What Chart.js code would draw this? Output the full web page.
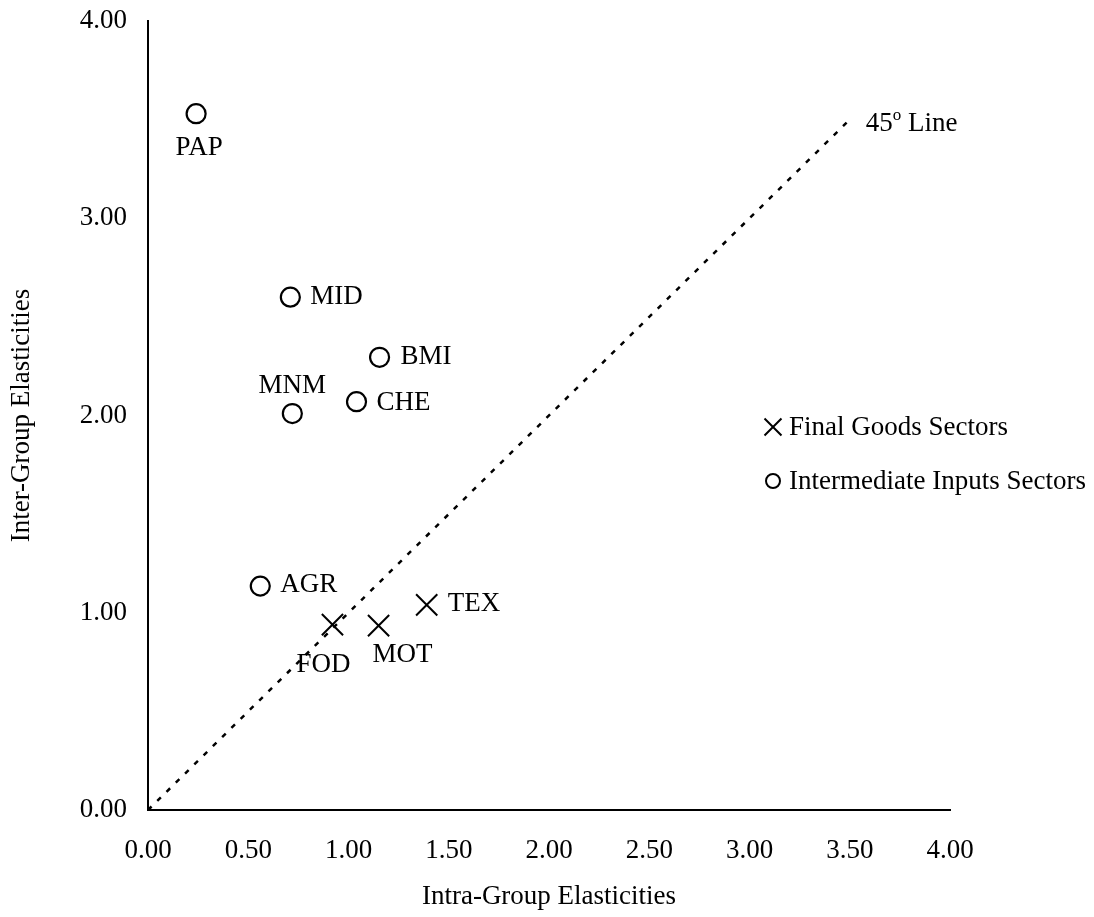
<!DOCTYPE html>
<html>
<head>
<meta charset="utf-8">
<script src="https://cdn.jsdelivr.net/npm/chart.js@4/dist/chart.umd.min.js"></script>
<style>
  html, body { margin: 0; padding: 0; background: #fff; }
  #wrap { width: 1094px; height: 917px; position: relative; }
</style>
</head>
<body>
<div id="wrap"><canvas id="c" width="1094" height="917"></canvas></div>
<script>
// ---- Data ----
const finalNames = ['FOD', 'MOT', 'TEX'];
const finalX = [0.92, 1.15, 1.39];
const finalY = [0.94, 0.935, 1.04];

const interNames = ['PAP', 'MID', 'BMI', 'CHE', 'MNM', 'AGR'];
const interX = [0.24, 0.71, 1.155, 1.04, 0.72, 0.56];
const interY = [3.53, 2.60, 2.295, 2.07, 2.01, 1.135];

const lineX = [0, 3.5];
const lineY = [0, 3.5];

const xTickValues = [0, 0.5, 1, 1.5, 2, 2.5, 3, 3.5, 4];
const yTickValues = [0, 1, 2, 3, 4];

const seriesLabels = ['Final Goods Sectors', 'Intermediate Inputs Sectors'];
const axisTitles = ['Intra-Group Elasticities', 'Inter-Group Elasticities'];
const lineLabel = ['45', 'o', ' Line'];

// ---- Styling / placement (not data) ----
const FONT = 'Liberation Serif';
const FS = 27;
const labelPlacement = {
  PAP: { dx: 3, dy: 34, align: 'center' },
  MID: { dx: 20, dy: 0, align: 'left' },
  BMI: { dx: 21, dy: 0, align: 'left' },
  CHE: { dx: 20, dy: 1, align: 'left' },
  MNM: { dx: 0, dy: -28, align: 'center' },
  AGR: { dx: 20, dy: -1, align: 'left' },
  FOD: { dx: -9, dy: 40, align: 'center' },
  MOT: { dx: 24, dy: 29, align: 'center' },
  TEX: { dx: 21, dy: -1, align: 'left' }
};

const toPts = (xs, ys) => xs.map((x, i) => ({ x: x, y: ys[i] }));

const pointLabelPlugin = {
  id: 'pointLabels',
  afterDatasetsDraw(chart) {
    const ctx = chart.ctx;
    ctx.save();
    ctx.fillStyle = '#000';
    ctx.font = FS + 'px "' + FONT + '"';
    ctx.textBaseline = 'middle';
    chart.data.datasets.forEach((ds, di) => {
      if (!ds.names) return;
      const meta = chart.getDatasetMeta(di);
      meta.data.forEach((el, i) => {
        const name = ds.names[i];
        const p = labelPlacement[name] || { dx: 20, dy: 0, align: 'left' };
        ctx.textAlign = p.align;
        ctx.fillText(name, el.x + p.dx, el.y + p.dy);
      });
    });
    // 45 degree line label
    const lineIdx = chart.data.datasets.findIndex(d => d.isRefLine);
    if (lineIdx >= 0) {
      const meta = chart.getDatasetMeta(lineIdx);
      const end = meta.data[meta.data.length - 1];
      let x = end.x + 16;
      const y = end.y + 4;
      ctx.textAlign = 'left';
      ctx.font = FS + 'px "' + FONT + '"';
      ctx.fillText(lineLabel[0], x, y);
      x += ctx.measureText(lineLabel[0]).width;
      ctx.font = '17px "' + FONT + '"';
      ctx.fillText(lineLabel[1], x, y - 8);
      x += ctx.measureText(lineLabel[1]).width;
      ctx.font = FS + 'px "' + FONT + '"';
      ctx.fillText(lineLabel[2], x, y);
    }
    ctx.restore();
  }
};

const customLegendPlugin = {
  id: 'customLegend',
  afterDraw(chart) {
    const ctx = chart.ctx;
    const items = chart.data.datasets.filter(d => d.inLegend);
    const mx = 773, ty0 = 427, gap = 54;
    ctx.save();
    items.forEach((ds, i) => {
      const y = ty0 + i * gap;
      ctx.strokeStyle = '#000';
      ctx.fillStyle = 'rgba(0,0,0,0)';
      ctx.lineWidth = 2;
      Chart.helpers.drawPoint(ctx, {
        pointStyle: ds.pointStyle,
        radius: ds.pointStyle === 'circle' ? 7 : 12,
        borderWidth: 2,
        rotation: 0
      }, mx, y);
      ctx.fillStyle = '#000';
      ctx.font = FS + 'px "' + FONT + '"';
      ctx.textAlign = 'left';
      ctx.textBaseline = 'middle';
      ctx.fillText(ds.label, mx + 16, y + 1);
    });
    ctx.restore();
  }
};

const tickFont = { family: FONT, size: FS };

new Chart(document.getElementById('c'), {
  type: 'scatter',
  data: {
    datasets: [
      {
        label: seriesLabels[0],
        names: finalNames,
        inLegend: true,
        data: toPts(finalX, finalY),
        pointStyle: 'crossRot',
        pointRadius: 15,
        pointHoverRadius: 15,
        borderColor: '#000',
        backgroundColor: 'rgba(0,0,0,0)',
        pointBorderWidth: 2,
        showLine: false
      },
      {
        label: seriesLabels[1],
        names: interNames,
        inLegend: true,
        data: toPts(interX, interY),
        pointStyle: 'circle',
        pointRadius: 9.5,
        pointHoverRadius: 9.5,
        borderColor: '#000',
        backgroundColor: 'rgba(255,255,255,0)',
        pointBorderWidth: 2.2,
        showLine: false
      },
      {
        label: '45 Line',
        isRefLine: true,
        data: toPts(lineX, lineY),
        showLine: true,
        borderColor: '#000',
        borderWidth: 2.5,
        borderDash: [5, 8],
        pointRadius: 0,
        pointHoverRadius: 0,
        fill: false,
        clip: false
      }
    ]
  },
  options: {
    responsive: false,
    animation: false,
    events: [],
    layout: { autoPadding: false, padding: { top: 21, right: 144, left: 0, bottom: 0 } },
    plugins: {
      legend: { display: false },
      tooltip: { enabled: false }
    },
    scales: {
      x: {
        type: 'linear',
        min: 0,
        max: 4,
        afterBuildTicks: (s) => { s.ticks = xTickValues.map(v => ({ value: v })); },
        afterFit: (s) => { s.height = 107; s.paddingLeft = 0; s.paddingRight = 0; },
        grid: { display: false, drawTicks: false },
        border: { display: true, color: '#000', width: 2 },
        ticks: {
          color: '#000',
          font: tickFont,
          padding: 25,
          maxRotation: 0,
          autoSkip: false,
          callback: (v) => Number(v).toFixed(2)
        },
        title: {
          display: true,
          text: axisTitles[0],
          color: '#000',
          font: { family: FONT, size: FS },
          padding: { top: 0, bottom: 4 }
        }
      },
      y: {
        type: 'linear',
        min: 0,
        max: 4,
        afterBuildTicks: (s) => { s.ticks = yTickValues.map(v => ({ value: v })); },
        afterFit: (s) => { s.width = 148; s.paddingTop = 0; s.paddingBottom = 0; },
        grid: { display: false, drawTicks: false },
        border: { display: true, color: '#000', width: 2 },
        ticks: {
          color: '#000',
          font: tickFont,
          padding: 21,
          autoSkip: false,
          callback: (v) => Number(v).toFixed(2)
        },
        title: {
          display: true,
          text: axisTitles[1],
          color: '#000',
          font: { family: FONT, size: FS },
          padding: { top: 6, bottom: 0 }
        }
      }
    }
  },
  plugins: [pointLabelPlugin, customLegendPlugin]
});
</script>
</body>
</html>
